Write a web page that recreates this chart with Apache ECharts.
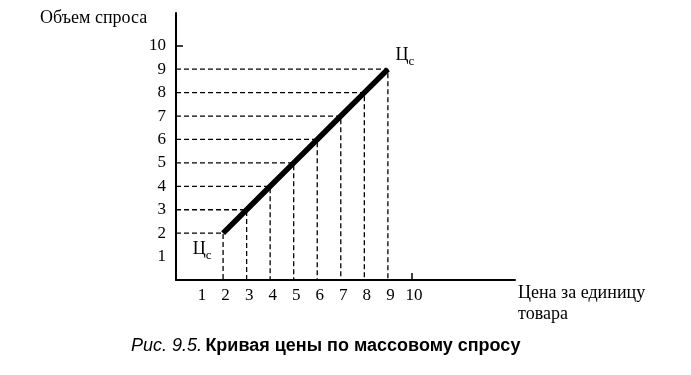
<!DOCTYPE html>
<html><head><meta charset="utf-8">
<script src="https://cdn.jsdelivr.net/npm/echarts@6/dist/echarts.min.js"></script>
<style>html,body{margin:0;padding:0;background:#fff}#c{width:691px;height:375px}</style>
</head><body><div id="c"></div>
<script>
const price = [2, 3, 4, 5, 6, 7, 8, 9];
const demand = [2, 3, 4, 5, 6, 7, 8, 9];
const xTickLabels = [1, 2, 3, 4, 5, 6, 7, 8, 9, 10];
const yTickLabels = [1, 2, 3, 4, 5, 6, 7, 8, 9, 10];
const yAxisName = 'Объем спроса';
const xAxisName = 'Цена за единицу\nтовара';
const curveLabel = 'Ц';
const captionItalic = 'Рис. 9.5.';
const captionBold = 'Кривая цены по массовому спросу';

const serif = 'Liberation Serif';
const chart = echarts.init(document.getElementById('c'));
const pts = price.map((p, i) => [p, demand[i]]);
const dashSeries = pts.map(([p, d]) => ({
  type: 'line', data: [[0, d], [p, d], [p, 0]], symbol: 'none', silent: true,
  lineStyle: { color: '#000', width: 1.3, type: [5, 3] }, z: 1
}));
const labelStyle = {
  rich: {
    c: { fontFamily: serif, fontSize: 18, color: '#000' },
    s: { fontFamily: serif, fontSize: 13, color: '#000', padding: [12, 0, 0, 0] }
  }
};
chart.setOption({
  animation: false,
  grid: { left: 176, top: 13, right: 176, bottom: 95, containLabel: false },
  xAxis: {
    type: 'value', min: 0, max: 14.4,
    axisLine: { show: true, lineStyle: { color: '#000', width: 2 } },
    axisTick: { show: true, inside: true, length: 7, customValues: [10], lineStyle: { color: '#000', width: 1.5 } },
    axisLabel: { customValues: xTickLabels, fontFamily: serif, fontSize: 17, color: '#000', margin: 7, padding: [0, 0, 0, 5] },
    splitLine: { show: false }
  },
  yAxis: {
    type: 'value', min: 0, max: 11.4,
    axisLine: { show: true, lineStyle: { color: '#000', width: 2 } },
    axisTick: { show: true, inside: true, length: 7, customValues: [10], lineStyle: { color: '#000', width: 1.5 } },
    axisLabel: { customValues: yTickLabels, fontFamily: serif, fontSize: 17, color: '#000', margin: 10 },
    splitLine: { show: false }
  },
  graphic: [
    { type: 'text', left: 40, top: 9, style: { text: yAxisName, font: '18px "Liberation Serif"', fill: '#000' } },
    { type: 'text', left: 518, top: 283, style: { text: xAxisName, font: '18px "Liberation Serif"', fill: '#000', lineHeight: 21 } },
    { type: 'text', left: 131, top: 337, style: {
      text: '{i|' + captionItalic + '} {b|' + captionBold + '}',
      rich: {
        i: { fontFamily: 'Liberation Sans', fontStyle: 'italic', fontSize: 18, fill: '#000' },
        b: { fontFamily: 'Liberation Sans', fontWeight: 'bold', fontSize: 18, fill: '#000' }
      } } }
  ],
  series: [
    ...dashSeries,
    {
      type: 'line', data: pts, symbol: 'none', z: 5,
      lineStyle: { color: '#000', width: 5.5, cap: 'butt' },
      markPoint: {
        symbol: 'circle', symbolSize: 1, itemStyle: { color: 'rgba(0,0,0,0)' },
        data: [
          { coord: pts[0], label: { show: true, position: 'inside', formatter: '{c|' + curveLabel + '}{s|с}', offset: [-21, 16], ...labelStyle } },
          { coord: pts[pts.length - 1], label: { show: true, position: 'inside', formatter: '{c|' + curveLabel + '}{s|с}', offset: [17, -14], ...labelStyle } }
        ]
      }
    }
  ]
});
</script></body></html>
